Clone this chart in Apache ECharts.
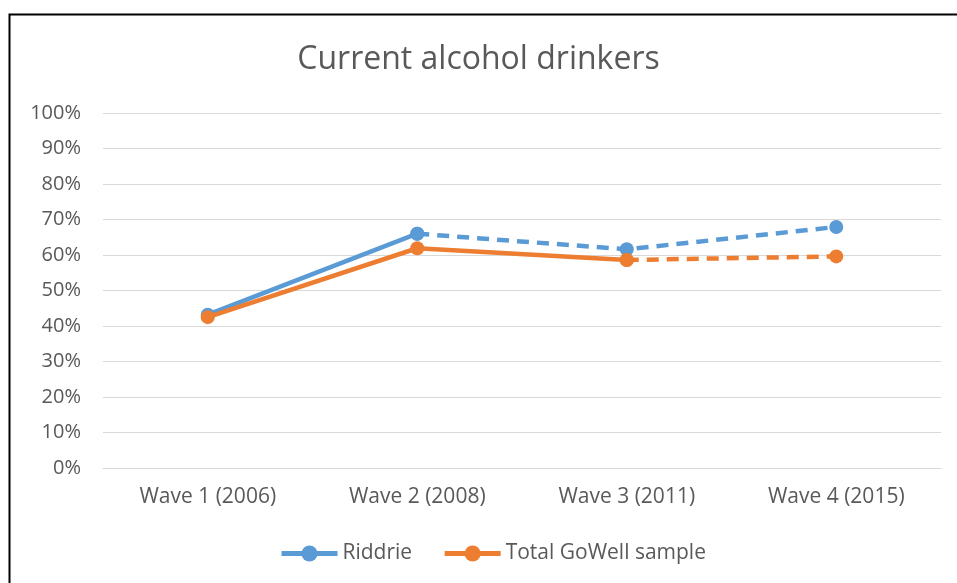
<!DOCTYPE html>
<html>
<head>
<meta charset="utf-8">
<script src="https://cdn.jsdelivr.net/npm/echarts@6/dist/echarts.min.js"></script>
<style>
html,body{margin:0;padding:0;background:#fff;}
#c{width:957px;height:583px;}
</style>
</head>
<body>
<div id="c"></div>
<script>
var categories = ['Wave 1 (2006)', 'Wave 2 (2008)', 'Wave 3 (2011)', 'Wave 4 (2015)'];
var riddrie = [43.2, 66.0, 61.6, 67.9];
var total = [42.5, 61.9, 58.6, 59.6];
var yTicks = [0, 10, 20, 30, 40, 50, 60, 70, 80, 90, 100];

var blue = '#5B9BD5';
var orange = '#ED7D31';
var font = "'Open Sans', 'Liberation Sans', sans-serif";

function part(arr, from, to) {
  return arr.map(function (v, i) { return (i >= from && i <= to) ? v : '-'; });
}

var chart = echarts.init(document.getElementById('c'), null, {renderer: 'canvas'});
chart.setOption({
  animation: false,
  backgroundColor: '#fff',
  title: {
    text: 'Current alcohol drinkers',
    left: 'center',
    top: 39,
    textStyle: {fontFamily: font, fontSize: 32, fontWeight: 'normal', color: '#595959'}
  },
  graphic: [{
    type: 'polyline',
    shape: {points: [[9.5, 600], [9.5, 14.5], [970, 14.5]]},
    style: {stroke: '#000', lineWidth: 2, fill: null},
    silent: true
  }],
  legend: {
    bottom: 14,
    left: 274,
    itemWidth: 56,
    itemHeight: 20,
    itemGap: 30,
    data: ['Riddrie', 'Total GoWell sample'],
    lineStyle: {width: 5},
    textStyle: {fontFamily: font, fontSize: 21, color: '#595959'}
  },
  grid: {left: 103, right: 16, top: 113, bottom: 115},
  xAxis: {
    type: 'category',
    data: categories,
    boundaryGap: true,
    axisLine: {show: true, lineStyle: {color: '#D9D9D9', width: 1}},
    axisTick: {show: false},
    axisLabel: {fontFamily: font, fontSize: 21, color: '#595959', margin: 19}
  },
  yAxis: {
    type: 'value',
    min: 0, max: 100, interval: 10,
    axisLine: {show: false},
    axisTick: {show: false},
    splitLine: {lineStyle: {color: '#D9D9D9', width: 1}},
    axisLabel: {fontFamily: font, fontSize: 20, color: '#595959', margin: 22,
      formatter: function (v) { return yTicks.indexOf(v) >= 0 ? v + '%' : ''; }}
  },
  series: [
    {name: 'Riddrie', type: 'line', data: part(riddrie, 0, 1), symbol: 'circle', symbolSize: 14,
     itemStyle: {color: blue}, lineStyle: {color: blue, width: 4.5}, z: 2},
    {name: 'Riddrie', type: 'line', data: part(riddrie, 1, 3), symbol: 'circle', symbolSize: 14,
     itemStyle: {color: blue}, lineStyle: {color: blue, width: 4.5, type: [12, 8]}, z: 2},
    {name: 'Total GoWell sample', type: 'line', data: part(total, 0, 2), symbol: 'circle', symbolSize: 14,
     itemStyle: {color: orange}, lineStyle: {color: orange, width: 4.5}, z: 3},
    {name: 'Total GoWell sample', type: 'line', data: part(total, 2, 3), symbol: 'circle', symbolSize: 14,
     itemStyle: {color: orange}, lineStyle: {color: orange, width: 4.5, type: [12, 8]}, z: 3}
  ]
});
</script>
</body>
</html>
